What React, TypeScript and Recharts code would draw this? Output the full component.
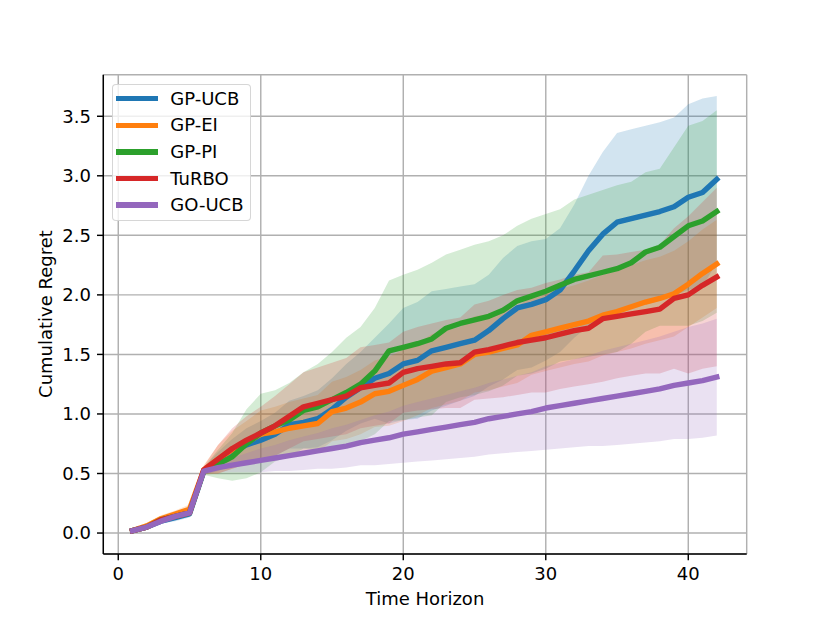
import React from "react";
import {
  ComposedChart,
  Line,
  Area,
  XAxis,
  YAxis,
  CartesianGrid,
} from "recharts";

// time steps on the x axis
const steps = [
  1, 2, 3, 4, 5, 6, 7, 8, 9, 10, 11, 12, 13, 14, 15, 16, 17, 18, 19, 20, 21,
  22, 23, 24, 25, 26, 27, 28, 29, 30, 31, 32, 33, 34, 35, 36, 37, 38, 39, 40,
  41, 42,
];

const xTicks = [0, 10, 20, 30, 40];
const yTicks = [0, 0.5, 1, 1.5, 2, 2.5, 3, 3.5];

// mean cumulative regret per method
const ucbMean = [
  0.02, 0.05, 0.1, 0.13, 0.16, 0.52, 0.6, 0.68, 0.74, 0.78, 0.83, 0.91, 0.93,
  0.96, 1.04, 1.14, 1.22, 1.3, 1.34, 1.42, 1.45, 1.53, 1.56, 1.59, 1.62, 1.7,
  1.8, 1.89, 1.92, 1.96, 2.04, 2.2, 2.37, 2.51, 2.61, 2.64, 2.67, 2.7, 2.74,
  2.82, 2.86, 2.97,
];
const eiMean = [
  0.02, 0.06, 0.12, 0.16, 0.2, 0.53, 0.62, 0.7, 0.76, 0.83, 0.85, 0.88, 0.9,
  0.92, 1.02, 1.05, 1.1, 1.17, 1.19, 1.24, 1.29, 1.36, 1.39, 1.42, 1.5, 1.52,
  1.55, 1.58, 1.66, 1.69, 1.72, 1.75, 1.78, 1.83, 1.86, 1.9, 1.94, 1.97, 2.01,
  2.09, 2.18, 2.26,
];
const piMean = [
  0.02, 0.05, 0.11, 0.14, 0.17, 0.52, 0.58, 0.64, 0.75, 0.84, 0.9, 0.95, 1.03,
  1.06, 1.12, 1.18, 1.25, 1.36, 1.53, 1.56, 1.59, 1.63, 1.72, 1.76, 1.79, 1.82,
  1.87, 1.95, 1.99, 2.03, 2.08, 2.13, 2.16, 2.19, 2.22, 2.27, 2.36, 2.4, 2.49,
  2.58, 2.62, 2.7,
];
const turboMean = [
  0.02, 0.05, 0.11, 0.14, 0.17, 0.53, 0.62, 0.71, 0.78, 0.84, 0.9, 0.98, 1.06,
  1.09, 1.12, 1.15, 1.22, 1.24, 1.26, 1.35, 1.38, 1.4, 1.42, 1.43, 1.52, 1.54,
  1.57, 1.6, 1.62, 1.64, 1.67, 1.7, 1.72, 1.8, 1.82, 1.84, 1.86, 1.88, 1.97, 2.0,
  2.08, 2.15,
];
const goMean = [
  0.02, 0.05, 0.1, 0.14, 0.17, 0.52, 0.55, 0.57, 0.59, 0.61, 0.63, 0.65, 0.67,
  0.69, 0.71, 0.73, 0.76, 0.78, 0.8, 0.83, 0.85, 0.87, 0.89, 0.91, 0.93, 0.96,
  0.98, 1.0, 1.02, 1.05, 1.07, 1.09, 1.11, 1.13, 1.15, 1.17, 1.19, 1.21, 1.24,
  1.26, 1.28, 1.31,
];

// spread (half width of the shaded band) per method
const ucbStd = [
  0.01, 0.01, 0.02, 0.03, 0.03, 0.03, 0.08, 0.11, 0.14, 0.16, 0.18, 0.2, 0.22,
  0.24, 0.26, 0.28, 0.3, 0.34, 0.42, 0.47, 0.49, 0.5, 0.49, 0.48, 0.47, 0.47,
  0.51, 0.52, 0.53, 0.51, 0.52, 0.56, 0.63, 0.69, 0.75, 0.75, 0.75, 0.75, 0.75,
  0.78, 0.79, 0.7,
];
const eiStd = [
  0.01, 0.02, 0.03, 0.03, 0.04, 0.04, 0.12, 0.16, 0.18, 0.2, 0.21, 0.22, 0.23,
  0.24, 0.25, 0.26, 0.27, 0.28, 0.29, 0.3, 0.3, 0.31, 0.31, 0.31, 0.32, 0.32,
  0.32, 0.32, 0.33, 0.33, 0.33, 0.33, 0.34, 0.34, 0.34, 0.35, 0.35, 0.35, 0.36,
  0.36, 0.37, 0.37,
];
const piStd = [
  0.01, 0.01, 0.02, 0.02, 0.03, 0.03, 0.12, 0.2, 0.29, 0.33, 0.3, 0.31, 0.32,
  0.36, 0.4, 0.46, 0.48, 0.53, 0.59, 0.61, 0.62, 0.64, 0.62, 0.62, 0.63, 0.63,
  0.63, 0.63, 0.65, 0.65, 0.64, 0.67, 0.68, 0.69, 0.7, 0.68, 0.67, 0.66, 0.75,
  0.84, 0.84, 0.85,
];
const turboStd = [
  0.01, 0.01, 0.02, 0.02, 0.03, 0.03, 0.12, 0.17, 0.2, 0.22, 0.25, 0.27, 0.29,
  0.3, 0.31, 0.32, 0.34, 0.34, 0.34, 0.34, 0.35, 0.36, 0.37, 0.38, 0.4, 0.41,
  0.43, 0.44, 0.44, 0.46, 0.46, 0.47, 0.47, 0.53, 0.52, 0.52, 0.52, 0.54, 0.59,
  0.66, 0.7, 0.75,
];
const goStd = [
  0.01, 0.01, 0.02, 0.02, 0.02, 0.02, 0.04, 0.06, 0.08, 0.1, 0.11, 0.13, 0.14,
  0.15, 0.17, 0.18, 0.19, 0.21, 0.22, 0.24, 0.25, 0.26, 0.27, 0.28, 0.29, 0.3,
  0.31, 0.32, 0.33, 0.35, 0.36, 0.37, 0.38, 0.4, 0.41, 0.42, 0.43, 0.44, 0.45,
  0.47, 0.48, 0.49,
];

const series = [
  { key: "ucb", name: "GP-UCB", color: "#1f77b4", mean: ucbMean, std: ucbStd },
  { key: "ei", name: "GP-EI", color: "#ff7f0e", mean: eiMean, std: eiStd },
  { key: "pi", name: "GP-PI", color: "#2ca02c", mean: piMean, std: piStd },
  { key: "turbo", name: "TuRBO", color: "#d62728", mean: turboMean, std: turboStd },
  { key: "go", name: "GO-UCB", color: "#9467bd", mean: goMean, std: goStd },
];

const data = steps.map((t, i) => {
  const row: Record<string, any> = { t };
  series.forEach((s) => {
    row[s.key] = s.mean[i];
    row[s.key + "Band"] = [s.mean[i] - s.std[i], s.mean[i] + s.std[i]];
  });
  return row;
});

const FONT = "'DejaVu Sans', sans-serif";
const LW = 1.44;

export default function App() {
  return (
    <div
      style={{
        position: "absolute",
        left: 0,
        top: 0,
        width: 830,
        height: 623,
        background: "#fff",
        fontFamily: FONT,
      }}
    >
      <ComposedChart
        width={830}
        height={623}
        data={data}
        margin={{ top: 74.7, right: 83.3, bottom: 29, left: 33.3 }}
      >
        <CartesianGrid stroke='#b0b0b0' strokeWidth={LW} />
        <XAxis
          dataKey='t'
          type='number'
          domain={[-1.05, 44.1]}
          allowDataOverflow
          ticks={xTicks}
          height={40}
          tickSize={6.3}
          tickMargin={7}
          axisLine={{ stroke: "#000", strokeWidth: LW }}
          tickLine={{ stroke: "#000", strokeWidth: LW }}
          tick={{ fill: "#000", fontSize: 18, fontFamily: FONT }}
        />
        <YAxis
          type='number'
          domain={[-0.176, 3.849]}
          allowDataOverflow
          ticks={yTicks}
          width={70}
          tickSize={6.3}
          tickMargin={6}
          tickFormatter={(v: number) => v.toFixed(1)}
          axisLine={{ stroke: "#000", strokeWidth: LW }}
          tickLine={{ stroke: "#000", strokeWidth: LW }}
          tick={{ fill: "#000", fontSize: 18, fontFamily: FONT }}
        />
        <XAxis
          xAxisId='top'
          orientation='top'
          type='number'
          domain={[0, 1]}
          height={0}
          tick={false}
          tickLine={false}
          axisLine={{ stroke: "#000", strokeWidth: LW }}
        />
        <YAxis
          yAxisId='right'
          orientation='right'
          type='number'
          domain={[0, 1]}
          width={0}
          tick={false}
          tickLine={false}
          axisLine={{ stroke: "#000", strokeWidth: LW }}
        />
        {series.map((s) => (
          <Area
            key={s.key + "Band"}
            dataKey={s.key + "Band"}
            type='linear'
            stroke='none'
            fill={s.color}
            fillOpacity={0.2}
            dot={false}
            activeDot={false}
            isAnimationActive={false}
          />
        ))}
        {series.map((s) => (
          <Line
            key={s.key}
            dataKey={s.key}
            type='linear'
            stroke={s.color}
            strokeWidth={5.4}
            strokeLinecap='square'
            strokeLinejoin='round'
            dot={false}
            activeDot={false}
            isAnimationActive={false}
          />
        ))}
      </ComposedChart>

      {/* axis titles */}
      <div
        style={{
          position: "absolute",
          left: 225,
          top: 590,
          width: 400,
          textAlign: "center",
          fontSize: 18,
          lineHeight: "18px",
        }}
      >
        Time Horizon
      </div>
      <div
        style={{
          position: "absolute",
          left: 46 - 150,
          top: 314 - 9,
          width: 300,
          textAlign: "center",
          fontSize: 18,
          lineHeight: "18px",
          transform: "rotate(-90deg)",
        }}
      >
        Cumulative Regret
      </div>

      {/* legend */}
      <div
        style={{
          position: "absolute",
          left: 112.3,
          top: 84,
          width: 138.4,
          height: 136.7,
          boxSizing: "border-box",
          border: `${LW}px solid rgba(204,204,204,0.8)`,
          borderRadius: 4,
          background: "rgba(255,255,255,0.8)",
          paddingTop: 0.5,
        }}
      >
        {series.map((s) => (
          <div
            key={s.key}
            style={{ display: "flex", alignItems: "center", height: 26.6 }}
          >
            <div
              style={{
                marginLeft: 3,
                width: 41.5,
                height: 5.4,
                background: s.color,
              }}
            />
            <span style={{ marginLeft: 12.5, fontSize: 18, lineHeight: "18px" }}>
              {s.name}
            </span>
          </div>
        ))}
      </div>
    </div>
  );
}
